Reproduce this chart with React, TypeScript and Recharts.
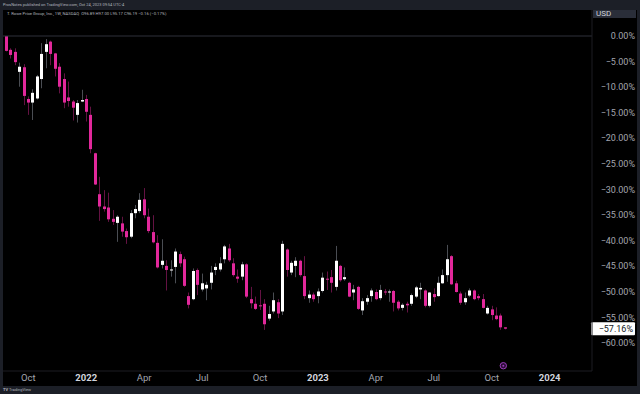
import React from "react";
import { ComposedChart, Bar, XAxis, YAxis, ReferenceLine, ReferenceDot } from "recharts";

// weekly candles, % change from first bar
const OPEN = [
  0, -2.7, -3.1, -7.0, -6.1, -12.3, -13.0, -12.2, -8.4, -3.1,
  -1.1, -3.4, -6.0, -8.4, -12.0, -12.8, -15.4, -12.8, -12.3, -15.4,
  -22.9, -30.9, -33.3, -33.5, -35.7, -36.5, -36.6, -38.1, -39.2, -34.6,
  -34.2, -31.9, -35.3, -38.3, -40.4, -44.7, -44.9, -45.8, -45.1, -42.6,
  -43.6, -50.8, -51.4, -45.7, -49.5, -49.3, -48.2, -45.7, -45.6, -43.6,
  -41.5, -44.4, -47.0, -47.0, -44.6, -51.4, -52.3, -52.6, -52.3, -55.2,
  -53.8, -52.0, -53.8, -41.7, -46.2, -44.9, -43.9, -46.9, -51.2, -50.5,
  -50.8, -49.8, -47.4, -47.1, -49.0, -44.9, -47.5, -48.2, -50.1, -49.0,
  -53.6, -51.9, -50.8, -50.0, -51.2, -49.9, -50.1, -49.8, -51.9, -53.1,
  -52.3, -52.3, -50.9, -49.5, -49.7, -52.7, -50.4, -50.8, -48.3, -46.7,
  -43.0, -48.3, -50.3, -52.0, -50.7, -49.7, -50.8, -51.4, -54.2, -53.4,
  -54.6, -54.6, -56.9,
];
const HIGH = [
  0, -2.4, -2.4, -5.2, -5.5, -11.8, -10.4, -7.6, -1.4, -0.6,
  -0.9, -3.3, -5.3, -7.3, -8.9, -12.5, -12.5, -10.5, -11.5, -13.8,
  -22.8, -27.5, -30.1, -30.6, -34.0, -35.0, -35.3, -37.6, -34.0, -33.0,
  -30.7, -29.7, -33.7, -35.0, -38.9, -39.7, -43.8, -43.8, -41.5, -42.1,
  -43.1, -50.1, -45.4, -45.4, -46.4, -48.0, -44.9, -44.4, -43.2, -40.8,
  -40.6, -43.4, -45.6, -44.1, -44.4, -49.0, -50.9, -49.6, -51.4, -52.7,
  -50.1, -51.4, -40.0, -41.5, -43.9, -43.2, -43.7, -43.0, -49.7, -50.1,
  -49.3, -46.2, -46.0, -45.7, -41.0, -44.7, -45.2, -48.0, -48.6, -48.8,
  -51.2, -50.6, -49.3, -49.5, -48.6, -49.4, -49.5, -49.6, -51.6, -52.2,
  -51.9, -50.3, -48.8, -48.2, -49.5, -50.0, -49.3, -47.0, -45.6, -40.8,
  -42.8, -47.8, -49.9, -50.1, -49.3, -49.5, -50.4, -50.4, -52.7, -52.7,
  -53.0, -54.2, -56.9,
];
const LOW = [
  -3.0, -4.4, -5.7, -9.9, -13.5, -15.4, -16.4, -12.4, -10.2, -6.3,
  -5.7, -7.9, -11.2, -14.1, -13.8, -16.5, -16.9, -12.9, -16.7, -22.9,
  -29.1, -36.1, -34.3, -36.3, -36.9, -40.2, -39.2, -40.6, -39.5, -35.6,
  -34.6, -35.6, -38.5, -40.5, -45.4, -45.4, -49.7, -47.0, -48.3, -45.1,
  -49.0, -53.2, -51.6, -50.6, -49.9, -51.6, -49.5, -46.7, -46.0, -44.4,
  -44.1, -47.0, -48.2, -47.7, -51.2, -53.2, -53.5, -53.5, -57.4, -55.6,
  -54.2, -55.1, -54.5, -47.0, -46.7, -47.1, -47.0, -51.4, -52.1, -51.9,
  -52.2, -50.1, -49.6, -50.1, -49.7, -48.0, -47.8, -51.0, -51.6, -53.5,
  -54.5, -52.5, -51.9, -51.6, -51.6, -50.6, -51.9, -53.8, -53.6, -53.6,
  -54.0, -52.7, -51.2, -51.4, -53.0, -53.0, -51.9, -50.9, -48.4, -48.0,
  -48.6, -50.1, -52.5, -52.5, -51.0, -51.6, -51.6, -53.2, -54.4, -55.5,
  -55.5, -57.4, -57.3,
];
const CLOSE = [
  -2.9, -3.7, -5.1, -6.0, -11.7, -13.0, -11.1, -7.9, -3.5, -1.6,
  -3.5, -6.4, -9.9, -13.0, -12.7, -14.0, -13.1, -12.5, -14.8, -22.1,
  -29.0, -33.3, -33.8, -35.8, -36.3, -35.3, -38.2, -39.3, -34.6, -33.8,
  -32.0, -35.0, -38.1, -40.3, -45.2, -43.9, -45.7, -45.6, -42.1, -44.4,
  -48.8, -52.5, -45.9, -48.6, -48.3, -48.6, -46.2, -45.1, -44.4, -41.1,
  -43.8, -46.7, -47.4, -44.6, -50.9, -52.2, -53.3, -52.8, -56.3, -54.3,
  -51.6, -54.2, -40.6, -45.7, -44.3, -43.9, -46.7, -50.8, -50.5, -51.4,
  -49.9, -47.2, -47.6, -48.2, -43.9, -47.7, -47.1, -50.9, -49.5, -53.3,
  -51.8, -51.2, -49.7, -51.4, -49.6, -50.1, -49.9, -52.1, -53.2, -52.5,
  -52.6, -50.6, -49.1, -49.2, -52.7, -50.1, -51.0, -48.2, -46.7, -43.6,
  -48.5, -50.0, -52.1, -51.2, -49.7, -51.4, -51.2, -53.1, -53.1, -54.5,
  -55.3, -56.9, -57.16,
];

const X_TICKS = [5, 18, 31, 44, 57, 70, 83, 96, 109, 122];
const X_LABELS = ["Oct", "2022", "Apr", "Jul", "Oct", "2023", "Apr", "Jul", "Oct", "2024"];
const Y_TICKS = [0, -5, -10, -15, -20, -25, -30, -35, -40, -45, -50, -55, -60];
const LAST = -57.16;
const EARNINGS = { x: 111.6, y: -64.4 };

const UP = "#ffffff";
const DOWN = "#e2289b";
const FONT = "Roboto, 'Liberation Sans', sans-serif";

const data = OPEN.map((o, i) => ({
  i,
  open: o,
  high: HIGH[i],
  low: LOW[i],
  close: CLOSE[i],
  range: [LOW[i], HIGH[i]],
}));

const fmt = (v: number) => (v < 0 ? "\u2212" : "") + Math.abs(v).toFixed(2) + "%";

const Candle = (props: any) => {
  const { x, y, width, height, payload } = props;
  if (x == null || !payload) return null;
  const { open, close, high, low } = payload;
  const span = high - low || 1;
  const toY = (v: number) => y + ((high - v) / span) * height;
  const c = Math.floor(x + width / 2);
  const up = close >= open;
  const top = toY(Math.max(open, close));
  const bot = toY(Math.min(open, close));
  return (
    <g>
      <rect x={c} y={y} width={1} height={Math.max(1, height)} fill={up ? "#4a4d53" : "#641243"} />
      <rect x={c - 1} y={top} width={3} height={Math.max(1, bot - top)} fill={up ? UP : DOWN} />
    </g>
  );
};

const XTick = (props: any) => {
  const { x, y, payload } = props;
  const label = X_LABELS[X_TICKS.indexOf(payload.value)];
  const year = /^\d{4}$/.test(label);
  return (
    <text x={x} y={y + 10} textAnchor="middle" fontSize={9.5} fontFamily={FONT}
      fill={year ? "#d1d4dc" : "#a3a6af"} fontWeight={year ? 700 : 400}>
      {label}
    </text>
  );
};

const YTick = (props: any) => {
  const { x, y, payload } = props;
  return (
    <text x={x + 43} y={y + 3} textAnchor="end" fontSize={9} fontFamily={FONT} fill="#a3a6af">
      {fmt(payload.value)}
    </text>
  );
};

const LastLabel = (props: any) => {
  const { viewBox } = props;
  if (!viewBox) return null;
  const x = viewBox.x + viewBox.width - 1;
  const y = viewBox.y;
  return (
    <g>
      <rect x={x} y={y - 6.5} width={44} height={13} fill="#ffffff" rx={1} />
      <text x={x + 42} y={y + 3} textAnchor="end" fontSize={9} fontFamily={FONT} fill="#131722">
        {fmt(LAST)}
      </text>
    </g>
  );
};

const EarningsMark = (props: any) => {
  const { cx, cy } = props;
  return (
    <g>
      <circle cx={cx} cy={cy} r={3.2} fill="#2a0d36" stroke="#9a3cb8" strokeWidth={1} />
      <circle cx={cx} cy={cy} r={1} fill="#9a3cb8" />
    </g>
  );
};

export default function App() {
  return (
    <div style={{ position: "absolute", left: 0, top: 0, width: 640, height: 394, background: "#1c1f27", overflow: "hidden", fontFamily: FONT }}>
      <div style={{ position: "absolute", left: 3, top: 2, fontSize: 4, color: "#b2b5be", whiteSpace: "nowrap" }}>
        ProsNotes published on TradingView.com, Oct 24, 2023 09:54 UTC-4
      </div>
      <div style={{ position: "absolute", left: 3, top: 10, width: 634, height: 376, background: "#000" }}>
        <ComposedChart width={634} height={376} data={data} margin={{ top: 0, right: 0, bottom: 0, left: 0 }}>
          <XAxis dataKey="i" type="number" domain={[-0.67, 131.5]} allowDataOverflow ticks={X_TICKS} interval={0}
            height={15} tickSize={0} tickMargin={0} tickLine={false} axisLine={{ stroke: "#1c1d22" }} tick={<XTick />} />
          <YAxis orientation="right" type="number" domain={[-65.43, 5.08]} allowDataOverflow ticks={Y_TICKS} interval={0}
            width={45} tickSize={0} tickMargin={0} tickLine={false} axisLine={{ stroke: "#1c1d22" }} tick={<YTick />} />
          <ReferenceLine y={0} stroke="#2e313a" strokeWidth={1} />
          <Bar dataKey="range" barSize={3} shape={<Candle />} isAnimationActive={false} />
          <ReferenceLine y={LAST} stroke="none" label={<LastLabel />} />
          <ReferenceDot x={EARNINGS.x} y={EARNINGS.y} r={3} shape={<EarningsMark />} />
        </ComposedChart>
        <div style={{ position: "absolute", left: 4, top: 1, fontSize: 4.2, color: "#b2b5be", whiteSpace: "nowrap" }}>
          T. Rowe Price Group, Inc., 1W, NASDAQ&nbsp;&nbsp;O96.89 H97.00 L95.17 C96.19 −0.16 (−0.17%)
        </div>
        <div style={{ position: "absolute", left: 590, top: 0, width: 43, height: 8, background: "#2a2e39", color: "#d1d4dc", fontSize: 8, lineHeight: "8px", paddingLeft: 3, boxSizing: "border-box" }}>
          USD
        </div>
      </div>
      <div style={{ position: "absolute", left: 3, top: 387, fontSize: 4, color: "#b2b5be", whiteSpace: "nowrap" }}>
        <b>TV</b> TradingView
      </div>
    </div>
  );
}
